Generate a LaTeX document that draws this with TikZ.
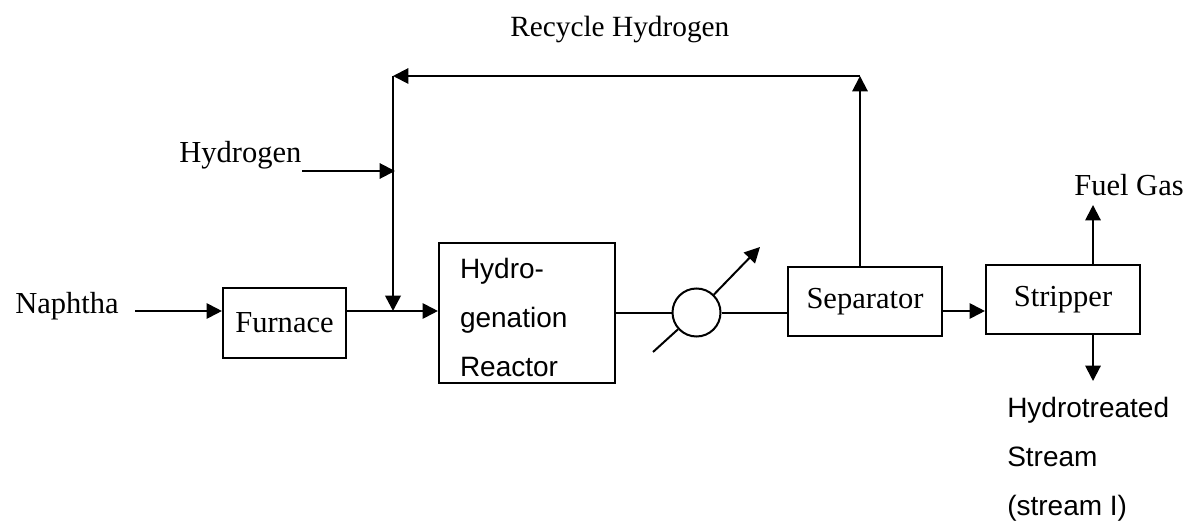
\documentclass[tikz,border=0pt]{standalone}
\usepackage{fontspec}
\setmainfont{Liberation Serif}
\newfontfamily\arialish{Liberation Sans}
\usetikzlibrary{arrows.meta,calc}
\tikzset{
  serif/.style={font=\fontsize{22.9}{27}\selectfont, inner sep=0pt},
  sans/.style={font=\arialish\fontsize{21}{36.75}\selectfont, inner sep=0pt},
  freetext/.style={anchor=base west},
  unit/.style={draw=black, line width=1.6pt, inner sep=0pt, serif},
  flow/.style={draw=black, line width=1.5pt},
  flowarrow/.style={flow, -{Triangle[length=11.5pt,width=11.5pt]}},
}
\begin{document}
\begin{tikzpicture}[x=0.75pt,y=-0.75pt]
\useasboundingbox (0,0) rectangle (1191,527);
\fill[white] (0,0) rectangle (1191,527);

% free labels
\node[serif,freetext] (recycle) at (510,37) {\fontsize{22}{27}\selectfont Recycle Hydrogen};
\node[serif,freetext] (hydrogen) at (179,163) {Hydrogen};
\node[serif,freetext] (naphtha) at (15,313) {Naphtha};
\node[serif,freetext] (fuel) at (1074,196) {Fuel Gas};
\node[sans,freetext,align=left] (product) at (1007,515) {Hydrotreated\\Stream\\(stream I)};

% units
\node[unit,minimum width=92.25pt,minimum height=52.5pt] (furn) at (284.5,323) {Furnace};
\node[draw=black,line width=1.6pt,inner sep=0pt,sans,align=left,text width=100.5pt,
      minimum width=132pt,minimum height=105pt] (reac) at (527,313)
      {\rule{0pt}{22.5pt}Hydro-\\genation\\Reactor};
\node[unit,minimum width=115.5pt,minimum height=51.75pt] (sepa) at (865,301.5) {Separator};
\node[unit,minimum width=115.5pt,minimum height=51.75pt] (strip) at (1063,299.5) {Stripper};
\node[draw=black,line width=1.5pt,circle,inner sep=0pt,minimum size=36pt] (hx) at (696.5,312.5) {};

% free ends and junctions
\coordinate (naphend) at (135,311);
\coordinate (hydend) at (302,171);
\coordinate (mix) at (393,311);
\coordinate (corner) at (393,76);
\coordinate (sepatop) at (860,76);
\coordinate (hxin) at (653,352);
\coordinate (hxout) at (760,247);
\coordinate (fuelend) at (1093,205);
\coordinate (prodend) at (1093,381);

% connectors
\draw[flowarrow] (naphend) -- (naphend -| furn.west);
\draw[flowarrow] (naphend -| furn.east) -- (naphend -| reac.west);
\draw[flow,line width=2pt,-{Triangle[length=11.5pt,width=11.5pt]}] (corner) -- (mix);
\draw[flowarrow] (hydend) -- ($(hydend -| corner)+(2,0)$);
\draw[flowarrow] (sepatop |- sepa.north) -- (sepatop);
\draw[flowarrow] (sepatop) -- (corner);
\draw[flow] (reac.east |- hx) -- (hx.west);
\draw[flow] (hx.east) -- (sepa.west |- hx);
\draw[flow] (hxin) -- (hx);
\draw[flowarrow] (hx) -- (hxout);
\draw[flowarrow] (sepa.east |- 0,311) -- (strip.west |- 0,311);
\draw[flowarrow] (fuelend |- strip.north) -- (fuelend);
\draw[flowarrow] (prodend |- strip.south) -- (prodend);
\end{tikzpicture}
\end{document}
